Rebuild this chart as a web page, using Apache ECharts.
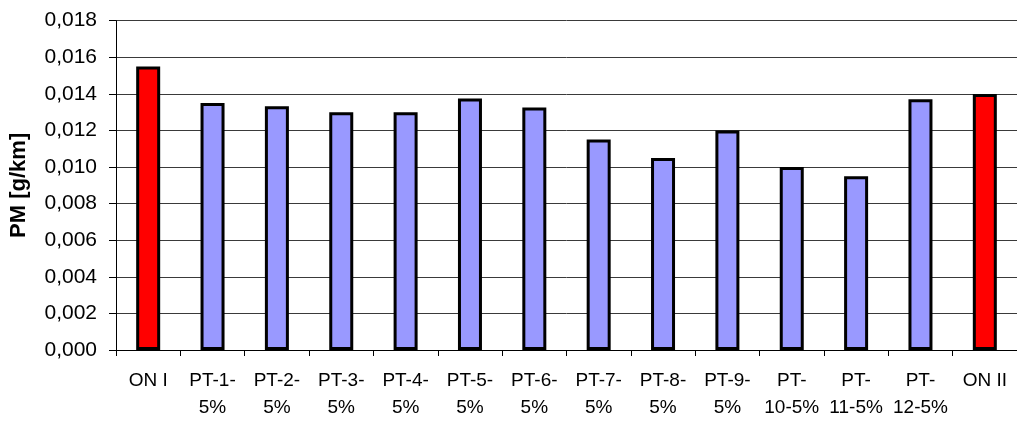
<!DOCTYPE html>
<html>
<head>
<meta charset="utf-8">
<script src="https://cdn.jsdelivr.net/npm/echarts@6/dist/echarts.min.js"></script>
<style>
html,body{margin:0;padding:0;background:#fff;}
#c{width:1017px;height:421px;}
</style>
</head>
<body>
<div id="c"></div>
<script>
const categories = ['ON I', 'PT-1-\n5%', 'PT-2-\n5%', 'PT-3-\n5%', 'PT-4-\n5%', 'PT-5-\n5%', 'PT-6-\n5%', 'PT-7-\n5%', 'PT-8-\n5%', 'PT-9-\n5%', 'PT-\n10-5%', 'PT-\n11-5%', 'PT-\n12-5%', 'ON II'];
const pmValues = [0.0155, 0.0135, 0.01333, 0.0130, 0.0130, 0.01375, 0.01325, 0.0115, 0.0105, 0.0120, 0.0100, 0.0095, 0.01370, 0.0140];
const barColors = ['#FF0000', '#9999FF', '#9999FF', '#9999FF', '#9999FF', '#9999FF', '#9999FF', '#9999FF', '#9999FF', '#9999FF', '#9999FF', '#9999FF', '#9999FF', '#FF0000'];
const yAxisTitle = 'PM [g/km]';
const yMin = 0, yMax = 0.018, yStep = 0.002;

const chart = echarts.init(document.getElementById('c'), null, {renderer: 'canvas'});
chart.setOption({
  animation: false,
  backgroundColor: '#ffffff',
  grid: {left: 116, top: 20.7, width: 904, height: 334, containLabel: false},
  xAxis: {
    type: 'category',
    data: categories,
    axisLine: {show: true, lineStyle: {color: '#000', width: 1}},
    axisTick: {show: true, length: 6, lineStyle: {color: '#000'}},
    axisLabel: {color: '#000', fontFamily: 'Liberation Sans, Arial, sans-serif', fontSize: 19, lineHeight: 27, margin: 17, interval: 0}
  },
  yAxis: {
    type: 'value',
    min: yMin, max: yMax, interval: yStep,
    name: yAxisTitle,
    nameLocation: 'middle',
    nameRotate: 90,
    nameGap: 86,
    nameTextStyle: {color: '#000', fontFamily: 'Liberation Sans, Arial, sans-serif', fontSize: 22, fontWeight: 'bold'},
    axisLine: {show: true, lineStyle: {color: '#000', width: 1}},
    axisTick: {show: true, length: 7, lineStyle: {color: '#000'}},
    axisLabel: {color: '#000', fontFamily: 'Liberation Sans, Arial, sans-serif', fontSize: 21, margin: 19,
      formatter: v => v.toFixed(3).replace('.', ',')},
    splitLine: {show: true, lineStyle: {color: '#3a3a3a', width: 1}}
  },
  series: [{
    type: 'bar',
    data: pmValues.map((v, i) => ({value: v, itemStyle: {color: barColors[i]}})),
    barWidth: 24,
    itemStyle: {borderColor: '#000', borderWidth: 3}
  }]
});
</script>
</body>
</html>
